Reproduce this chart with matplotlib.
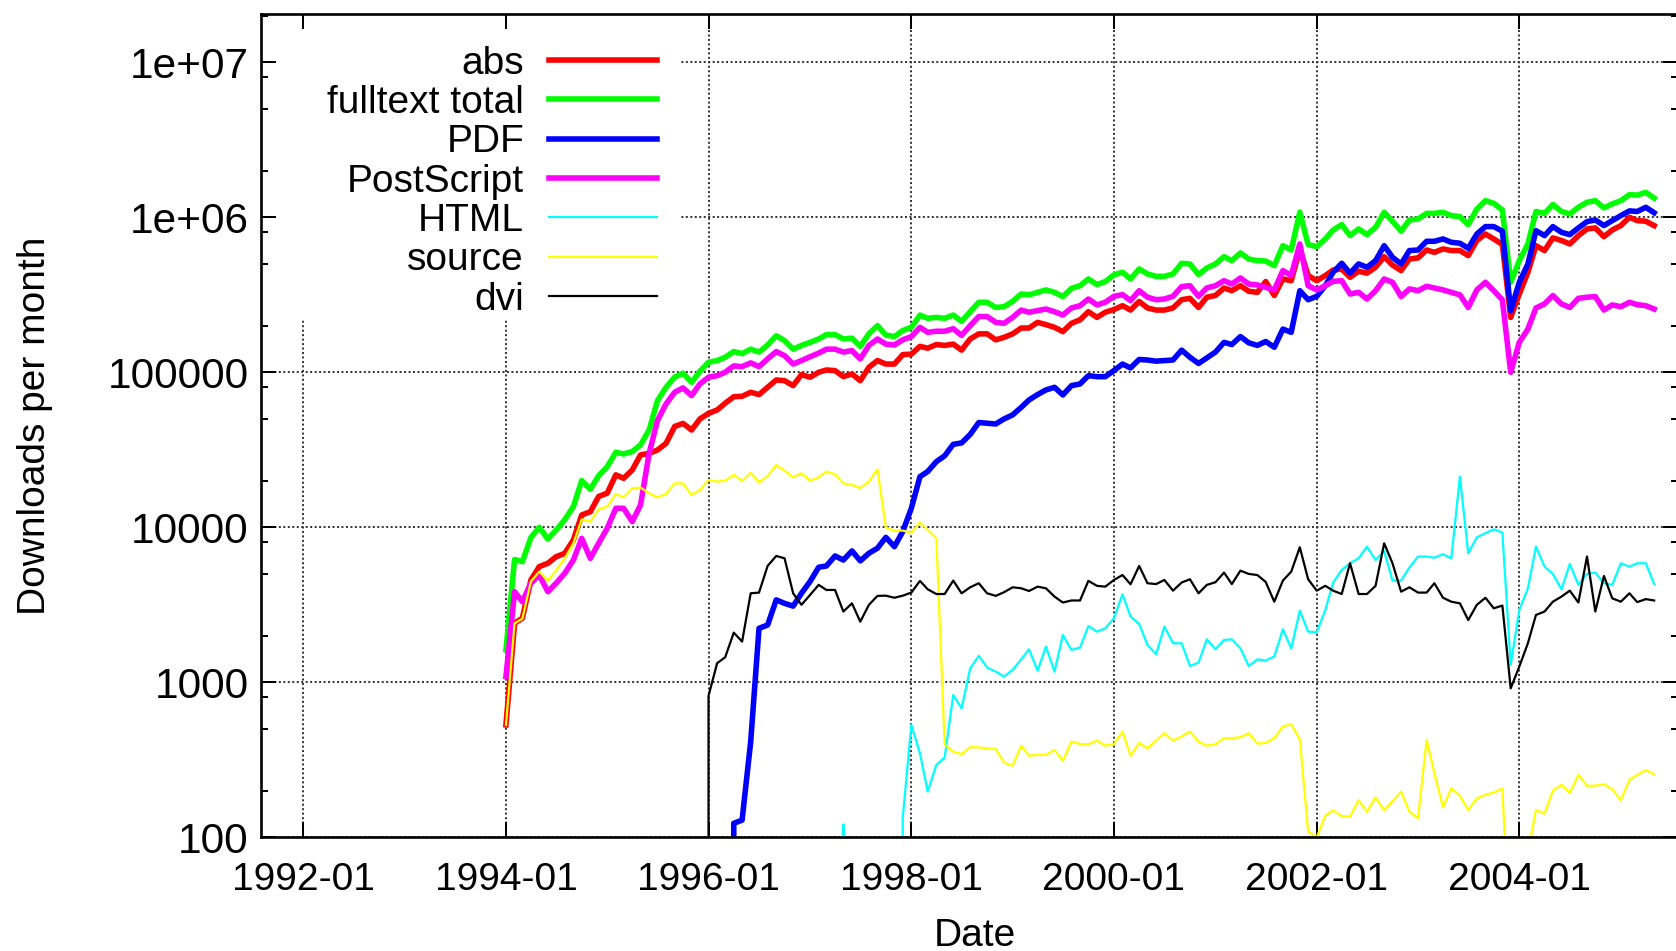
import pandas as pd
import matplotlib
matplotlib.use('Agg')
import matplotlib.pyplot as plt
import matplotlib.dates as mdates
from matplotlib import ticker
from matplotlib.patches import Rectangle

# monthly downloads, 1994-01 .. 2005-05 (one row per year)
months = pd.date_range('1994-01-01', periods=137, freq='MS')

abs_ = [531, 2400, 2590, 4570, 5570, 5860, 6460, 6790, 8280, 12000, 12600, 15800,
        16600, 21800, 20700, 23400, 29300, 30000, 31500, 34800, 44700, 46800, 42400, 50000,
        54300, 57100, 63100, 69600, 70000, 74300, 71800, 80000, 89200, 88300, 82000, 96600,
        92900, 100000, 103500, 102500, 93800, 97500, 88300, 107700, 119000, 113000, 113000, 130000,
        131000, 147000, 143000, 151000, 149000, 152000, 139000, 164000, 177000, 177000, 162000, 168000,
        177000, 193000, 193000, 210000, 203000, 195000, 183000, 207000, 218000, 246000, 226000, 244000,
        254000, 269000, 252000, 286000, 260000, 252000, 252000, 260000, 294000, 300000, 262000, 305000,
        313000, 350000, 336000, 362000, 333000, 328000, 385000, 313000, 400000, 390000, 625000, 421000,
        390000, 421000, 457000, 463000, 410000, 449000, 436000, 476000, 557000, 492000, 453000, 538000,
        547000, 615000, 594000, 625000, 610000, 610000, 566000, 708000, 780000, 725000, 667000, 226000,
        320000, 442000, 656000, 610000, 736000, 708000, 673000, 762000, 841000, 854000, 750000, 828000,
        884000, 1000000, 952000, 943000, 884000]

fulltext = [1620, 6200, 6000, 8600, 10000, 8400, 9600, 11200, 13600, 20000, 17600, 21500,
            24600, 30500, 29700, 30800, 34000, 42500, 65600, 80000, 93000, 98600, 86200, 101500,
            116000, 119000, 125000, 136000, 132000, 141000, 135000, 150000, 172000, 160000, 141000, 149000,
            156000, 164000, 175000, 175000, 164000, 166000, 147000, 177000, 200000, 174000, 170000, 186000,
            195000, 234000, 223000, 226000, 223000, 234000, 213000, 246000, 283000, 283000, 262000, 265000,
            287000, 320000, 316000, 328000, 340000, 328000, 308000, 348000, 362000, 400000, 368000, 385000,
            425000, 442000, 400000, 464000, 431000, 416000, 416000, 431000, 505000, 500000, 427000, 471000,
            500000, 557000, 525000, 589000, 538000, 525000, 522000, 488000, 656000, 615000, 1080000, 667000,
            647000, 725000, 828000, 897000, 762000, 841000, 773000, 861000, 1077000, 943000, 813000, 961000,
            975000, 1060000, 1060000, 1077000, 1025000, 1010000, 897000, 1130000, 1280000, 1230000, 1115000, 381000,
            525000, 673000, 1090000, 1060000, 1210000, 1090000, 1050000, 1160000, 1250000, 1280000, 1150000, 1220000,
            1280000, 1400000, 1390000, 1450000, 1330000]

pdf = [0, 0, 0, 0, 0, 0, 0, 0, 0, 0, 0, 0,
       0, 0, 0, 0, 0, 0, 0, 0, 0, 0, 0, 0,
       0, 0, 0, 123, 129, 414, 2230, 2340, 3400, 3230, 3100, 3750,
       4470, 5520, 5630, 6530, 6150, 7040, 6070, 6800, 7330, 8610, 7500, 9380,
       13270, 21200, 22900, 26500, 28900, 34300, 35000, 39700, 47400, 46900, 46400, 50000,
       53100, 59400, 66300, 71800, 76900, 80000, 71400, 82000, 84100, 95100, 93700, 93700,
       102600, 113000, 106700, 121000, 120000, 118000, 119000, 120000, 139000, 125000, 114000, 124000,
       135000, 156000, 151000, 170000, 155000, 149000, 158000, 145000, 190000, 181000, 336000, 294000,
       309000, 362000, 442000, 505000, 436000, 500000, 476000, 525000, 656000, 552000, 500000, 610000,
       615000, 700000, 700000, 725000, 690000, 680000, 631000, 780000, 871000, 871000, 813000, 250000,
       381000, 500000, 820000, 762000, 871000, 800000, 773000, 854000, 938000, 961000, 884000, 952000,
       1025000, 1100000, 1090000, 1160000, 1070000]

postscript = [1090, 3840, 3310, 4360, 4920, 3840, 4360, 5050, 6150, 8480, 6300, 7880,
              9860, 13270, 13270, 10880, 13940, 30000, 48800, 62500, 74300, 79300, 70700, 84100,
              92900, 95100, 100000, 110000, 108800, 115000, 108800, 122000, 136000, 128000, 113000, 119000,
              126000, 133000, 141000, 141000, 135000, 138000, 122000, 149000, 164000, 152000, 150000, 162000,
              170000, 195000, 181000, 184000, 184000, 191000, 173000, 200000, 229000, 229000, 210000, 207000,
              226000, 252000, 244000, 250000, 256000, 246000, 234000, 260000, 269000, 297000, 272000, 283000,
              309000, 317000, 290000, 336000, 305000, 294000, 297000, 309000, 357000, 362000, 309000, 350000,
              362000, 390000, 371000, 406000, 371000, 366000, 353000, 340000, 453000, 421000, 673000, 362000,
              340000, 362000, 386000, 390000, 320000, 328000, 297000, 336000, 400000, 381000, 308000, 345000,
              336000, 359000, 350000, 340000, 328000, 316000, 262000, 340000, 381000, 336000, 293000, 100000,
              156000, 190000, 260000, 276000, 313000, 276000, 262000, 300000, 305000, 308000, 252000, 272000,
              265000, 283000, 273000, 269000, 256000]

html = [0, 0, 0, 0, 0, 0, 0, 0, 0, 0, 0, 0,
        0, 0, 0, 0, 0, 0, 0, 0, 0, 0, 0, 0,
        0, 0, 0, 0, 0, 0, 0, 0, 0, 0, 0, 0,
        0, 0, 0, 0, 121, 0, 0, 0, 0, 0, 0, 134,
        531, 348, 197, 293, 327, 828, 679, 1230, 1480, 1244, 1172, 1088,
        1202, 1406, 1633, 1189, 1698, 1172, 2018, 1617, 1675, 2307, 2122, 2230,
        2587, 3698, 2654, 2379, 1741, 1517, 2286, 1786, 1786, 1274, 1339, 1892,
        1633, 1875, 1892, 1656, 1274, 1406, 1380, 1466, 2198, 1656, 2897, 2122,
        2100, 2930, 4396, 5306, 5860, 6310, 7500, 6150, 7030, 4530, 4530, 5496,
        6475, 6475, 6370, 6700, 6310, 21230, 6790, 8610, 9150, 9710, 9240, 1295,
        2930, 4040, 7500, 5570, 5000, 3980, 5800, 4250, 5000, 5100, 4355, 4250,
        5860, 5570, 5860, 5860, 4300]

source = [530, 2400, 2570, 4470, 5180, 4510, 5290, 6310, 7880, 11260, 10880, 13070,
          13590, 16400, 15600, 17860, 18040, 16560, 15600, 16400, 19200, 19200, 16200, 17400,
          20200, 19700, 20000, 21800, 19900, 22500, 19500, 21400, 25200, 23200, 21000, 22300,
          20000, 21000, 22900, 22000, 19200, 18800, 17900, 19700, 23700, 10000, 9470, 9520,
          9240, 10770, 9610, 8490, 395, 357, 343, 381, 380, 375, 371, 303,
          290, 390, 336, 340, 340, 366, 312, 414, 400, 398, 421, 390,
          400, 481, 336, 406, 375, 421, 469, 421, 447, 481, 414, 390,
          398, 436, 436, 442, 469, 402, 406, 436, 518, 536, 429, 109,
          100, 138, 149, 137, 136, 174, 146, 181, 149, 171, 197, 146,
          133, 425, 259, 156, 207, 185, 150, 178, 188, 194, 207, 15,
          10, 80, 150, 142, 200, 218, 194, 252, 215, 215, 220, 204,
          174, 235, 252, 272, 255]

dvi = [0, 0, 0, 0, 0, 0, 0, 0, 0, 0, 0, 0,
       0, 0, 0, 0, 0, 0, 0, 0, 0, 0, 0, 0,
       817, 1327, 1450, 2090, 1830, 3750, 3790, 5630, 6530, 6310, 3750, 3160,
       3660, 4250, 3940, 3940, 2860, 3230, 2460, 3160, 3610, 3620, 3510, 3620,
       3790, 4510, 3980, 3710, 3710, 4530, 3750, 4100, 4355, 3750, 3610, 3810,
       4100, 4040, 3880, 4140, 4040, 3570, 3270, 3370, 3370, 4510, 4190, 4140,
       4570, 4920, 4290, 5630, 4355, 4300, 4570, 3900, 4400, 4620, 3750, 4250,
       4420, 5100, 4300, 5250, 5000, 4920, 4440, 3310, 4530, 5170, 7430, 4620,
       3900, 4190, 3900, 3710, 5860, 3710, 3710, 4190, 7880, 5860, 3840, 4100,
       3790, 3790, 4355, 3510, 3310, 3230, 2520, 3160, 3510, 3000, 3125, 914,
       1262, 1786, 2717, 2860, 3310, 3570, 3900, 3270, 6475, 2860, 4850, 3480,
       3310, 3750, 3290, 3440, 3370]

series = [('abs', abs_, '#ff0000', 4.0),
          ('fulltext total', fulltext, '#00ff00', 4.0),
          ('PDF', pdf, '#0000ff', 4.0),
          ('PostScript', postscript, '#ff00ff', 4.0),
          ('HTML', html, '#00ffff', 1.6),
          ('source', source, '#ffff00', 1.6),
          ('dvi', dvi, '#000000', 1.6)]

plt.rcParams['font.family'] = ['Liberation Sans', 'DejaVu Sans']
plt.rcParams['font.size'] = 28

fig = plt.figure(figsize=(16.76, 9.51), dpi=100)
rect = [0.1557, 0.1196, 0.8455, 0.8657]

# background axes: only the dotted grid plus the white key area
bg = fig.add_axes(rect)
ax = fig.add_axes(rect, sharex=bg, sharey=bg)
ax.patch.set_visible(False)

bg.set_yscale('log', nonpositive='clip')
bg.set_axisbelow(True)
bg.grid(True, which='major', color='#303030', linewidth=1.4, linestyle=(0, (1.0, 1.3)))
bg.tick_params(which='both', length=0, labelleft=False, labelbottom=False)
for s in bg.spines.values():
    s.set_visible(False)
bg.add_patch(Rectangle((0, 0.630), 0.2964, 0.370, transform=bg.transAxes,
                       facecolor='white', edgecolor='none', zorder=1))

for name, vals, col, lw in series:
    ax.plot(months, vals, color=col, linewidth=lw, label=name)

ax.set_xlim(pd.Timestamp('1991-08-02'), pd.Timestamp('2005-07-26'))
ax.set_ylim(100, 2.05e7)

ax.xaxis.set_major_locator(mdates.YearLocator(2))
ax.xaxis.set_major_formatter(mdates.DateFormatter('%Y-%m'))
ax.yaxis.set_major_locator(ticker.LogLocator(base=10, numticks=12))
ax.yaxis.set_minor_locator(ticker.LogLocator(base=10, subs=(2.0, 5.0, 8.0), numticks=12))
ax.yaxis.set_major_formatter(ticker.FuncFormatter(lambda v, p: '%g' % v))
ax.yaxis.set_minor_formatter(ticker.NullFormatter())

ax.tick_params(which='both', direction='in', top=True, right=True, width=1.45)
ax.tick_params(which='major', length=10.8)
ax.tick_params(which='minor', length=5.3)
ax.tick_params(axis='y', pad=9, labelsize=30.5)
ax.tick_params(axis='x', pad=18, labelsize=28)
for s in ax.spines.values():
    s.set_linewidth(1.9)

ax.set_xlabel('Date')
ax.set_ylabel('Downloads per month')
ax.xaxis.set_label_coords(0.504, -0.098)
ax.yaxis.set_label_coords(-0.147, 0.5)

ax.legend(loc='upper right', bbox_to_anchor=(0.2795, 0.9615), markerfirst=False, frameon=False,
          fontsize=28, handlelength=2.78, handletextpad=0.64, labelspacing=0.085,
          borderpad=0, borderaxespad=0)

fig.savefig('out.png', dpi=100)
